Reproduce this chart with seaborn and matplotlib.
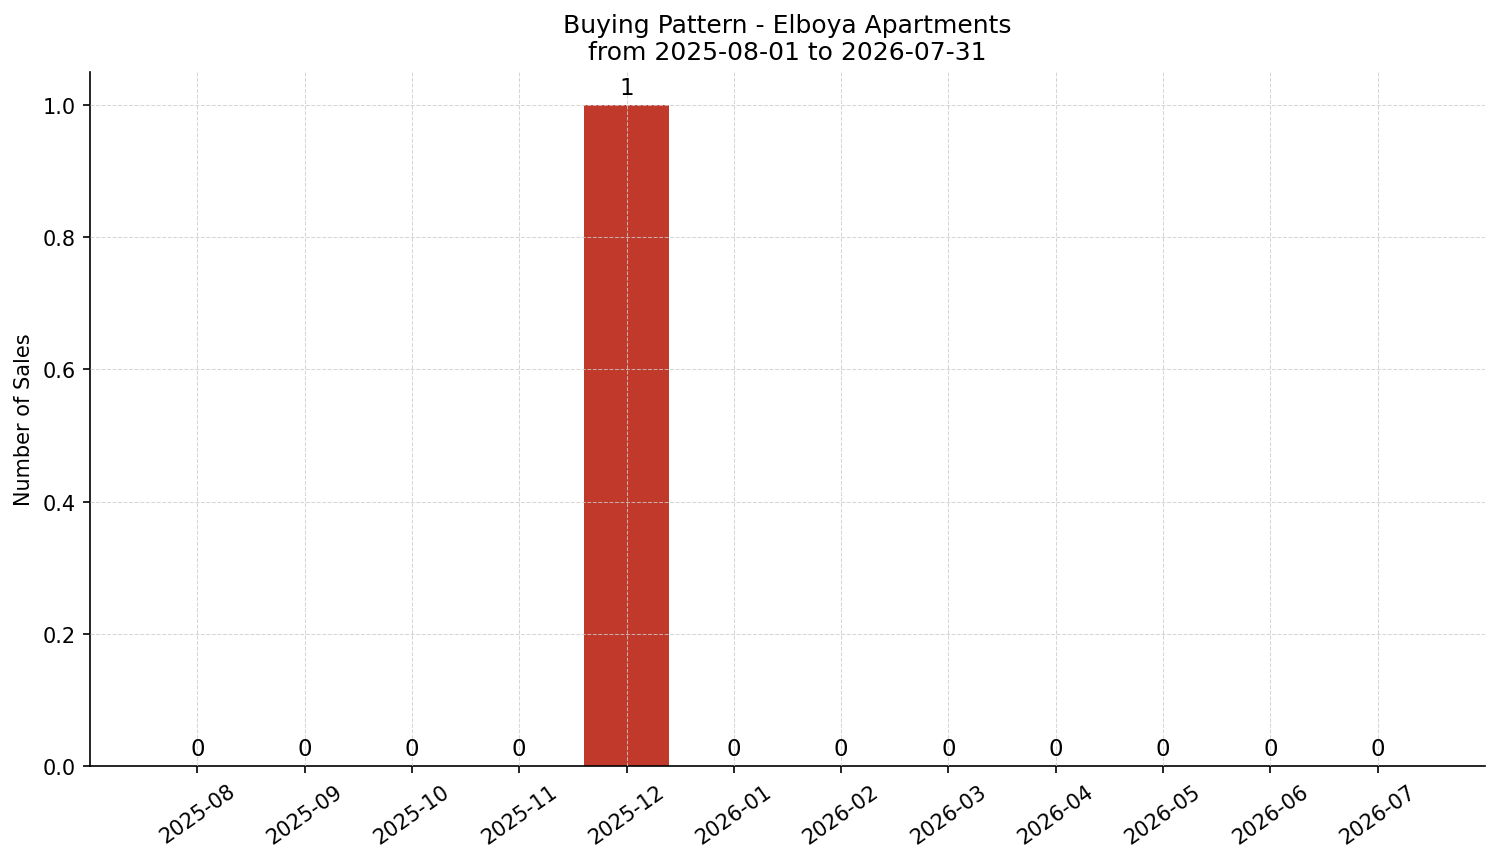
import matplotlib
matplotlib.use("Agg")
import matplotlib.pyplot as plt
import seaborn as sns
import pandas as pd

months = ["2025-08", "2025-09", "2025-10", "2025-11", "2025-12", "2026-01",
          "2026-02", "2026-03", "2026-04", "2026-05", "2026-06", "2026-07"]
sales = [0, 0, 0, 0, 1, 0, 0, 0, 0, 0, 0, 0]

plt.rcParams['font.family'] = ['DejaVu Sans']

df = pd.DataFrame({"month": months, "sales": sales})
fig, ax = plt.subplots(figsize=(10.007, 5.753), dpi=150)
fig.subplots_adjust(left=90/1501, right=1485/1501, top=1-73/863, bottom=1-767/863)
sns.barplot(data=df, x="month", y="sales", color="#c0392b", saturation=1, width=0.8, ax=ax)
for p, v in zip(ax.patches, sales):
    ax.annotate(f"{v}", (p.get_x() + p.get_width() / 2, p.get_height()),
                ha="center", va="bottom", xytext=(0, 3), textcoords="offset points",
                fontsize=11, color="black")
ax.set_xlim(-1, 12)
ax.set_ylim(0, 1.05)
ax.set_axisbelow(False)
ax.grid(True, linestyle="--", linewidth=0.5, color="#cccccc", alpha=0.8)
ax.set_xlabel("")
ax.set_ylabel("Number of Sales", fontsize=10)
ax.set_title("Buying Pattern - Elboya Apartments\nfrom 2025-08-01 to 2026-07-31", fontsize=12)
plt.setp(ax.get_xticklabels(), rotation=35)
ax.tick_params(labelsize=10)
sns.despine(ax=ax)
fig.savefig("out.png", dpi=150)
